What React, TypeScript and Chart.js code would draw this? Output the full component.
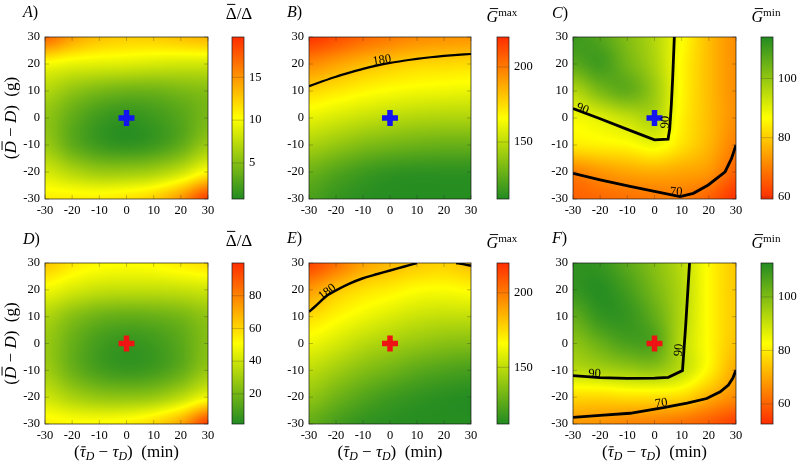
import React, { useEffect, useRef } from "react";
import { Chart, registerables } from "chart.js";

Chart.register(...registerables);

const W = 800;
const H = 463;
const FONT = "'Liberation Serif', 'DejaVu Serif', 'Times New Roman', serif";

// ---------------- data ----------------
const axisTicks = [-30, -20, -10, 0, 10, 20, 30];
const gridTau = [-30, -20, -10, 0, 10, 20, 30]; // columns (x)
const gridD = [30, 20, 10, 0, -10, -20, -30]; // rows (y), top to bottom

const valuesA = [
  [17, 14.5, 13, 12.5, 12.5, 13, 13.5],
  [10, 9.3, 9, 8.8, 8.5, 8.3, 8.3],
  [7, 5.5, 4.5, 4, 4, 4.5, 5],
  [5.5, 3.5, 2, 1.5, 2, 3, 4.5],
  [6, 3.5, 2, 1.5, 2, 3.5, 6],
  [8.5, 7, 6, 6, 6.5, 8, 10.5],
  [11, 11, 11, 11.5, 12.5, 15, 19],
];
const valuesB = [
  [218, 212, 205, 200, 196, 194, 193],
  [196, 190, 184, 180, 177, 176, 175],
  [176, 172, 168, 165, 163, 162, 161],
  [160, 156, 152, 149, 147, 146, 146],
  [145, 140, 135, 132, 130, 129, 129],
  [130, 124, 119, 116, 115, 115, 115],
  [122, 117, 114, 113, 113, 113, 113],
];
const valuesC = [
  [111, 108, 102, 96, 87, 78, 72],
  [107, 110, 104, 97, 86, 78, 72],
  [96, 103, 106, 99, 86, 78, 72],
  [88, 90.5, 94, 96, 85, 78, 72],
  [84, 85, 86, 88.5, 83, 77, 70],
  [70.3, 73, 75, 76, 75, 73, 66],
  [66, 67, 68, 69, 69.5, 66, 60],
];
const valuesD = [
  [64, 56, 52, 51, 52, 55, 58],
  [48, 42, 38, 37, 37, 38, 40],
  [33, 24, 18, 16, 17, 20, 26],
  [28, 17, 9, 6, 8, 14, 24],
  [30, 18, 10, 7, 9, 16, 28],
  [40, 32, 27, 26, 28, 36, 48],
  [54, 52, 52, 54, 60, 72, 96],
];
const valuesE = [
  [214, 203, 190, 184, 180, 178, 182],
  [192, 181, 174, 170, 166, 165, 167],
  [175, 168, 162, 157, 153, 151, 151],
  [162, 156, 149, 144, 140, 137, 136],
  [150, 143, 136, 131, 126, 123, 121],
  [139, 131, 124, 119, 116, 114, 113],
  [128, 121, 116, 114, 113, 113, 113],
];
const valuesF = [
  [111, 110, 105, 99, 92, 82, 75],
  [110, 112, 108, 101, 93, 82, 75],
  [104, 110, 110, 104, 93, 82, 75],
  [98, 103, 107, 106, 92, 82, 74],
  [92, 94, 96, 97, 91, 81, 70.5],
  [77, 77, 78, 78, 77, 71, 66],
  [68, 67, 65, 64, 62, 59, 55],
];

// colour bar ranges and ticks
const rangeA = [0.8, 19.7];
const rangeB = [112, 220];
const rangeC = [59.3, 114];
const rangeD = [1.6, 100];
const rangeE = [112, 220];
const rangeF = [52.5, 112.7];
const cbTicksA = [5, 10, 15];
const cbTicksB = [150, 200];
const cbTicksC = [60, 80, 100];
const cbTicksD = [20, 40, 60, 80];
const cbTicksE = [150, 200];
const cbTicksF = [60, 80, 100];

// contour lines
const contourB180 = [
  { x: -30, y: 11.8 }, { x: -25, y: 13.6 }, { x: -20, y: 15.3 }, { x: -15, y: 16.8 },
  { x: -10, y: 18.2 }, { x: -5, y: 19.4 }, { x: 0, y: 20.4 }, { x: 5, y: 21.2 },
  { x: 10, y: 21.9 }, { x: 15, y: 22.5 }, { x: 20, y: 23 }, { x: 25, y: 23.4 }, { x: 30, y: 23.7 },
];
const contourC90 = [
  { x: -30, y: 3.5 }, { x: -20, y: -0.3 }, { x: -10, y: -4.2 }, { x: 0, y: -8.1 },
  { x: 5, y: -7.8 }, { x: 5.6, y: -4 }, { x: 6.2, y: 5 }, { x: 6.7, y: 15 }, { x: 7.3, y: 30 },
];
const contourC70 = [
  { x: -30, y: -20.5 }, { x: -20, y: -22.9 }, { x: -9, y: -25.3 }, { x: 0, y: -27.2 },
  { x: 9.4, y: -29.1 }, { x: 14.3, y: -27.9 }, { x: 19.8, y: -24.8 }, { x: 26, y: -19.9 },
  { x: 28.4, y: -14.9 }, { x: 30, y: -10 },
];
const contourE180a = [
  { x: -30, y: 11.8 }, { x: -27, y: 14.5 }, { x: -23.4, y: 17.8 }, { x: -20, y: 19.8 },
  { x: -15, y: 22.3 }, { x: -10, y: 24.3 }, { x: -5, y: 25.8 }, { x: 0, y: 27.2 },
  { x: 5, y: 28.6 }, { x: 10, y: 30 },
];
const contourE180b = [{ x: 24.5, y: 30 }, { x: 27, y: 29.6 }, { x: 30, y: 29 }];
const contourF90 = [
  { x: -30, y: -12 }, { x: -20, y: -12.7 }, { x: -10, y: -13 }, { x: 0, y: -12.9 },
  { x: 5.1, y: -12.6 }, { x: 10.3, y: -10.1 }, { x: 11.5, y: 7 }, { x: 12.9, y: 30 },
];
const contourF70 = [
  { x: -30, y: -27.5 }, { x: -20, y: -26.8 }, { x: -9, y: -26 }, { x: 3.3, y: -23.9 },
  { x: 12, y: -22.2 }, { x: 19.2, y: -20.5 }, { x: 24.2, y: -18 }, { x: 27.2, y: -15.5 },
  { x: 28.8, y: -13 }, { x: 30, y: -9.9 },
];

const labelsB = [{ x: -3, y: 21.4, t: "180", rot: -9 }];
const labelsC = [
  { x: -26.5, y: 3.4, t: "90", rot: 21 },
  { x: 4.0, y: -1.5, t: "90", rot: -88 },
  { x: 8, y: -27.4, t: "70", rot: 3 },
];
const labelsE = [{ x: -23.2, y: 19.2, t: "180", rot: -38 }];
const labelsF = [
  { x: -22, y: -11.3, t: "90", rot: 2 },
  { x: 9.0, y: -2.4, t: "90", rot: -86 },
  { x: 2.5, y: -22.3, t: "70", rot: -8 },
];

const origin = [{ x: 0, y: 0 }];

// ---------------- helpers ----------------
const cmapStops: number[][] = [
  [0, 34, 139, 34],
  [0.5, 255, 255, 0],
  [1, 255, 45, 0],
];
function cmap(t: number): number[] {
  t = Math.max(0, Math.min(1, t));
  for (let i = 1; i < cmapStops.length; i++) {
    const a = cmapStops[i - 1];
    const b = cmapStops[i];
    if (t <= b[0]) {
      const u = (t - a[0]) / (b[0] - a[0]);
      return [a[1] + (b[1] - a[1]) * u, a[2] + (b[2] - a[2]) * u, a[3] + (b[3] - a[3]) * u];
    }
  }
  const l = cmapStops[cmapStops.length - 1];
  return [l[1], l[2], l[3]];
}

function cubic(p0: number, p1: number, p2: number, p3: number, t: number) {
  return p1 + 0.5 * t * (p2 - p0 + t * (2 * p0 - 5 * p1 + 4 * p2 - p3 + t * (3 * (p1 - p2) + p3 - p0)));
}
function sampleGrid(g: number[][], xv: number, yv: number) {
  const ny = g.length;
  const nx = g[0].length;
  const fx = (xv - gridTau[0]) / (gridTau[1] - gridTau[0]);
  const fy = (yv - gridD[0]) / (gridD[1] - gridD[0]);
  const ix = Math.max(0, Math.min(nx - 2, Math.floor(fx)));
  const iy = Math.max(0, Math.min(ny - 2, Math.floor(fy)));
  const tx = fx - ix;
  const ty = fy - iy;
  const at = (r: number, c: number) => {
    const rr = Math.max(0, Math.min(ny - 1, r));
    const cc = Math.max(0, Math.min(nx - 1, c));
    return g[rr][cc];
  };
  const rows: number[] = [];
  for (let k = -1; k <= 2; k++) {
    const r = iy + k;
    rows.push(cubic(at(r, ix - 1), at(r, ix), at(r, ix + 1), at(r, ix + 2), tx));
  }
  return cubic(rows[0], rows[1], rows[2], rows[3], ty);
}

type Seg = { t: string; it?: boolean; sub?: boolean; sup?: boolean; bar?: number };
type TextItem = { x: number; y: number; size: number; segs: Seg[]; align?: string; rot?: number };

function drawRich(ctx: CanvasRenderingContext2D, item: TextItem) {
  const size = item.size;
  const parts = item.segs.map((s) => {
    const fs = s.sub || s.sup ? size * 0.7 : size;
    const font = `${s.it ? "italic " : ""}${fs}px ${FONT}`;
    ctx.font = font;
    const w = ctx.measureText(s.t).width;
    return { ...s, fs, font, w };
  });
  const total = parts.reduce((a, p) => a + p.w, 0);
  ctx.save();
  ctx.translate(item.x, item.y);
  if (item.rot) ctx.rotate((item.rot * Math.PI) / 180);
  let x = item.align === "left" ? 0 : item.align === "right" ? -total : -total / 2;
  ctx.textBaseline = "alphabetic";
  ctx.textAlign = "left";
  ctx.fillStyle = "#000";
  ctx.strokeStyle = "#000";
  for (const p of parts) {
    ctx.font = p.font;
    const dy = p.sub ? size * 0.2 : p.sup ? -size * 0.4 : 0;
    ctx.fillText(p.t, x, dy);
    if (p.bar) {
      const by = dy - p.fs * p.bar;
      ctx.beginPath();
      ctx.lineWidth = Math.max(0.8, size / 17);
      const x0 = x + p.w * (p.it ? 0.28 : 0.12);
      const x1 = x + p.w * (p.it ? 1.0 : 0.88);
      ctx.moveTo(x0, by);
      ctx.lineTo(x1, by);
      ctx.stroke();
    }
    x += p.w;
  }
  ctx.restore();
}

const yTitleSegs: Seg[] = [
  { t: "(" },
  { t: "D", it: true, bar: 0.82 },
  { t: " − " },
  { t: "D", it: true },
  { t: ")  (g)" },
];
const xTitleSegs: Seg[] = [
  { t: "(" },
  { t: "τ", it: true, bar: 0.6 },
  { t: "D", it: true, sub: true },
  { t: " − " },
  { t: "τ", it: true },
  { t: "D", it: true, sub: true },
  { t: ")  (min)" },
];
const deltaTitle: Seg[] = [{ t: "Δ", bar: 0.86 }, { t: "/Δ" }];
const gmaxTitle: Seg[] = [{ t: "G", it: true, bar: 0.84 }, { t: "max", sup: true }];
const gminTitle: Seg[] = [{ t: "G", it: true, bar: 0.84 }, { t: "min", sup: true }];

type Panel = {
  name: string;
  x0: number; x1: number; y0: number; y1: number;
  cb0: number; cb1: number;
  values: number[][];
  range: number[];
  cbTicks: number[];
  reverse: boolean;
  marker: string;
  contours: { x: number; y: number }[][];
  labels: { x: number; y: number; t: string; rot: number }[];
  lw: number;
  tension: number;
  texts: TextItem[];
};

const YW = 40;
const XH = 22;
const TICK_FONT = { family: FONT, size: 12.5 };

function mainConfig(p: Panel): any {
  const plugin = {
    id: "panel" + p.name,
    beforeDatasetsDraw(chart: any) {
      const ca = chart.chartArea;
      const x0 = Math.round(ca.left);
      const y0 = Math.round(ca.top);
      const w = Math.round(ca.right) - x0;
      const h = Math.round(ca.bottom) - y0;
      const off = document.createElement("canvas");
      off.width = w;
      off.height = h;
      const octx = off.getContext("2d")!;
      const img = octx.createImageData(w, h);
      const sx = chart.scales.x;
      const sy = chart.scales.y;
      const [mn, mx] = p.range;
      for (let j = 0; j < h; j++) {
        const yv = sy.getValueForPixel(y0 + j + 0.5);
        for (let i = 0; i < w; i++) {
          const xv = sx.getValueForPixel(x0 + i + 0.5);
          const v = sampleGrid(p.values, xv, yv);
          let t = (v - mn) / (mx - mn);
          if (p.reverse) t = 1 - t;
          const c = cmap(t);
          const k = (j * w + i) * 4;
          img.data[k] = c[0];
          img.data[k + 1] = c[1];
          img.data[k + 2] = c[2];
          img.data[k + 3] = 255;
        }
      }
      octx.putImageData(img, 0, 0);
      chart.ctx.drawImage(off, x0, y0);
    },
    afterDatasetsDraw(chart: any) {
      const ctx: CanvasRenderingContext2D = chart.ctx;
      const ca = chart.chartArea;
      const sx = chart.scales.x;
      const sy = chart.scales.y;
      ctx.save();
      ctx.strokeStyle = "rgba(40,40,40,0.35)";
      ctx.lineWidth = 0.8;
      ctx.beginPath();
      for (const v of axisTicks) {
        const px = sx.getPixelForValue(v);
        ctx.moveTo(px, ca.bottom);
        ctx.lineTo(px, ca.bottom - 4);
        ctx.moveTo(px, ca.top);
        ctx.lineTo(px, ca.top + 4);
        const py = sy.getPixelForValue(v);
        ctx.moveTo(ca.left, py);
        ctx.lineTo(ca.left + 4, py);
        ctx.moveTo(ca.right, py);
        ctx.lineTo(ca.right - 4, py);
      }
      ctx.stroke();
      ctx.strokeStyle = "rgba(20,20,20,0.85)";
      ctx.strokeRect(ca.left, ca.top, ca.right - ca.left, ca.bottom - ca.top);
      ctx.restore();
      for (const l of p.labels) {
        ctx.save();
        ctx.translate(sx.getPixelForValue(l.x), sy.getPixelForValue(l.y));
        ctx.rotate((l.rot * Math.PI) / 180);
        ctx.font = `12.5px ${FONT}`;
        ctx.fillStyle = "#000";
        ctx.textAlign = "center";
        ctx.textBaseline = "middle";
        ctx.fillText(l.t, 0, 0);
        ctx.restore();
      }
    },
    afterDraw(chart: any) {
      const ctx: CanvasRenderingContext2D = chart.ctx;
      for (const t of p.texts) drawRich(ctx, t);
    },
  };

  return {
    type: "scatter",
    data: {
      datasets: [
        {
          type: "scatter",
          data: origin,
          pointStyle: "cross",
          pointRadius: 8,
          pointHoverRadius: 8,
          pointBorderWidth: 5.5,
          pointBorderColor: p.marker,
          pointBackgroundColor: p.marker,
          clip: false,
        },
        ...p.contours.map((c) => ({
          type: "line",
          data: c,
          borderColor: "#000",
          borderWidth: p.lw,
          pointRadius: 0,
          pointHoverRadius: 0,
          tension: p.tension,
          fill: false,
          clip: 0,
        })),
      ],
    },
    options: {
      responsive: false,
      animation: false,
      events: [],
      layout: {
        padding: { left: p.x0 - YW, top: p.y0, right: W - p.x1, bottom: H - p.y1 - XH },
      },
      plugins: { legend: { display: false }, tooltip: { enabled: false } },
      scales: {
        x: {
          type: "linear",
          min: -30,
          max: 30,
          afterBuildTicks: (s: any) => {
            s.ticks = axisTicks.map((v) => ({ value: v }));
          },
          afterFit: (s: any) => {
            s.height = XH;
          },
          grid: { display: false, drawTicks: false },
          border: { display: false },
          ticks: { font: TICK_FONT, color: "#000", padding: 4, maxRotation: 0, autoSkip: false },
        },
        y: {
          type: "linear",
          min: -30,
          max: 30,
          afterBuildTicks: (s: any) => {
            s.ticks = axisTicks.map((v) => ({ value: v }));
          },
          afterFit: (s: any) => {
            s.width = YW;
          },
          grid: { display: false, drawTicks: false },
          border: { display: false },
          ticks: { font: TICK_FONT, color: "#000", padding: 5, autoSkip: false },
        },
      },
    },
    plugins: [plugin],
  };
}

function colorbarConfig(p: Panel): any {
  const CBW = 40;
  const plugin = {
    id: "cb" + p.name,
    beforeDatasetsDraw(chart: any) {
      const ctx: CanvasRenderingContext2D = chart.ctx;
      const ca = chart.chartArea;
      const sy = chart.scales.y;
      const [mn, mx] = p.range;
      const top = Math.round(ca.top);
      const bot = Math.round(ca.bottom);
      for (let py = top; py < bot; py++) {
        const v = sy.getValueForPixel(py + 0.5);
        let t = (v - mn) / (mx - mn);
        if (p.reverse) t = 1 - t;
        const c = cmap(t);
        ctx.fillStyle = `rgb(${Math.round(c[0])},${Math.round(c[1])},${Math.round(c[2])})`;
        ctx.fillRect(ca.left, py, ca.right - ca.left, 1);
      }
      ctx.save();
      ctx.strokeStyle = "rgba(40,40,40,0.3)";
      ctx.lineWidth = 0.8;
      ctx.beginPath();
      for (const v of p.cbTicks) {
        const py = sy.getPixelForValue(v);
        ctx.moveTo(ca.left, py);
        ctx.lineTo(ca.right, py);
      }
      ctx.stroke();
      ctx.strokeStyle = "rgba(20,20,20,0.85)";
      ctx.strokeRect(ca.left, ca.top, ca.right - ca.left, ca.bottom - ca.top);
      ctx.restore();
    },
  };
  return {
    type: "scatter",
    data: { datasets: [] },
    options: {
      responsive: false,
      animation: false,
      events: [],
      layout: { padding: { left: p.cb0, top: p.y0, right: W - p.cb1 - CBW, bottom: H - p.y1 } },
      plugins: { legend: { display: false }, tooltip: { enabled: false } },
      scales: {
        x: { display: false, min: 0, max: 1 },
        y: {
          type: "linear",
          position: "right",
          min: p.range[0],
          max: p.range[1],
          afterBuildTicks: (s: any) => {
            s.ticks = p.cbTicks.map((v) => ({ value: v }));
          },
          afterFit: (s: any) => {
            s.width = CBW;
          },
          grid: { display: false, drawTicks: false },
          border: { display: false },
          ticks: { font: TICK_FONT, color: "#000", padding: 5, autoSkip: false },
        },
      },
    },
    plugins: [plugin],
  };
}

const TOP = { y0: 37, y1: 199 };
const BOT = { y0: 263, y1: 424 };
const COL = [
  { x0: 45, x1: 208, cb0: 232, cb1: 244 },
  { x0: 309, x1: 471, cb0: 497, cb1: 509 },
  { x0: 573, x1: 736, cb0: 761, cb1: 773 },
];

const panels: Panel[] = [
  {
    name: "A", ...COL[0], ...TOP, values: valuesA, range: rangeA, cbTicks: cbTicksA, reverse: false,
    marker: "#1414ee", contours: [], labels: [], lw: 2.5, tension: 0.3,
    texts: [
      { x: 23, y: 17, size: 16, segs: [{ t: "A", it: true }, { t: ")" }], align: "left" },
      { x: 239, y: 19, size: 17, segs: deltaTitle },
      { x: 16, y: 118, size: 17, segs: yTitleSegs, rot: -90 },
    ],
  },
  {
    name: "B", ...COL[1], ...TOP, values: valuesB, range: rangeB, cbTicks: cbTicksB, reverse: false,
    marker: "#1414ee", contours: [contourB180], labels: labelsB, lw: 2.2, tension: 0.3,
    texts: [
      { x: 287, y: 17, size: 16, segs: [{ t: "B", it: true }, { t: ")" }], align: "left" },
      { x: 502, y: 22, size: 16, segs: gmaxTitle },
    ],
  },
  {
    name: "C", ...COL[2], ...TOP, values: valuesC, range: rangeC, cbTicks: cbTicksC, reverse: true,
    marker: "#1414ee", contours: [contourC90, contourC70], labels: labelsC, lw: 2.8, tension: 0,
    texts: [
      { x: 552, y: 18, size: 16, segs: [{ t: "C", it: true }, { t: ")" }], align: "left" },
      { x: 766, y: 22, size: 16, segs: gminTitle },
    ],
  },
  {
    name: "D", ...COL[0], ...BOT, values: valuesD, range: rangeD, cbTicks: cbTicksD, reverse: false,
    marker: "#ee1414", contours: [], labels: [], lw: 2.5, tension: 0.3,
    texts: [
      { x: 23, y: 244, size: 16, segs: [{ t: "D", it: true }, { t: ")" }], align: "left" },
      { x: 239, y: 246, size: 17, segs: deltaTitle },
      { x: 16, y: 343.5, size: 17, segs: yTitleSegs, rot: -90 },
      { x: 126.5, y: 457, size: 17, segs: xTitleSegs },
    ],
  },
  {
    name: "E", ...COL[1], ...BOT, values: valuesE, range: rangeE, cbTicks: cbTicksE, reverse: false,
    marker: "#ee1414", contours: [contourE180a, contourE180b], labels: labelsE, lw: 2.5, tension: 0.3,
    texts: [
      { x: 287, y: 243, size: 16, segs: [{ t: "E", it: true }, { t: ")" }], align: "left" },
      { x: 502, y: 248, size: 16, segs: gmaxTitle },
      { x: 390, y: 457, size: 17, segs: xTitleSegs },
    ],
  },
  {
    name: "F", ...COL[2], ...BOT, values: valuesF, range: rangeF, cbTicks: cbTicksF, reverse: true,
    marker: "#ee1414", contours: [contourF90, contourF70], labels: labelsF, lw: 2.8, tension: 0,
    texts: [
      { x: 552, y: 243, size: 16, segs: [{ t: "F", it: true }, { t: ")" }], align: "left" },
      { x: 766, y: 248, size: 16, segs: gminTitle },
      { x: 654.5, y: 457, size: 17, segs: xTitleSegs },
    ],
  },
];

function ChartCanvas({ make }: { make: () => any }) {
  const ref = useRef<HTMLCanvasElement | null>(null);
  useEffect(() => {
    const chart = new Chart(ref.current as HTMLCanvasElement, make());
    return () => chart.destroy();
  }, []);
  return (
    <canvas
      ref={ref}
      width={W}
      height={H}
      style={{ position: "absolute", left: 0, top: 0, width: W, height: H }}
    />
  );
}

export default function App() {
  return (
    <div style={{ position: "fixed", left: 0, top: 0, width: W, height: H, background: "#fff", overflow: "hidden" }}>
      {panels.map((p) => (
        <React.Fragment key={p.name}>
          <ChartCanvas make={() => mainConfig(p)} />
          <ChartCanvas make={() => colorbarConfig(p)} />
        </React.Fragment>
      ))}
    </div>
  );
}
